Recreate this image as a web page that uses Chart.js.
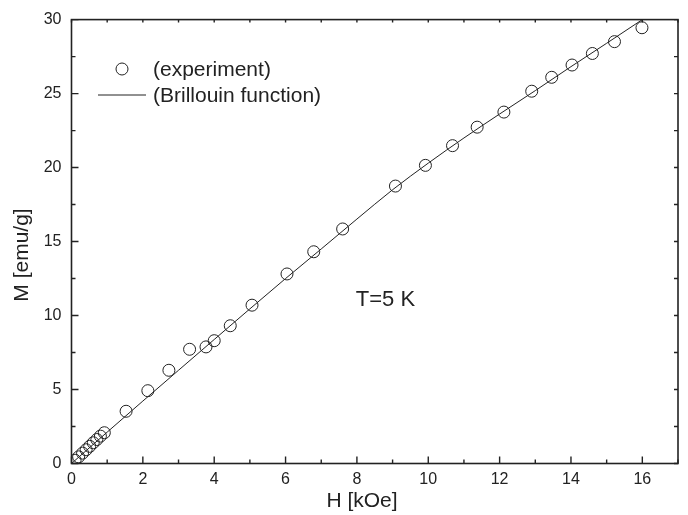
<!DOCTYPE html>
<html>
<head>
<meta charset="utf-8">
<script src="https://cdn.jsdelivr.net/npm/chart.js@4/dist/chart.umd.min.js"></script>
<style>
  html, body { margin: 0; padding: 0; background: #fff; }
  #wrap { width: 688px; height: 515px; }
</style>
</head>
<body>
<div id="wrap"><canvas id="c" width="688" height="515"></canvas></div>
<script>
// Magnetisation curve at T = 5 K: measured points and Brillouin fit
const hMeasured = [0.10, 0.20, 0.31, 0.41, 0.51, 0.61, 0.71, 0.81, 0.92,
  1.53, 2.14, 2.73, 3.31, 3.77, 4.00, 4.45, 5.06, 6.04, 6.79, 7.60,
  9.08, 9.92, 10.68, 11.37, 12.12, 12.90, 13.46, 14.03, 14.60, 15.22, 15.99];
const mMeasured = [0.22, 0.45, 0.70, 0.93, 1.16, 1.40, 1.62, 1.85, 2.08,
  3.53, 4.92, 6.30, 7.72, 7.88, 8.30, 9.31, 10.70, 12.81, 14.31, 15.85,
  18.75, 20.15, 21.48, 22.73, 23.75, 25.16, 26.10, 26.93, 27.71, 28.51, 29.45];

const hFit = [0, 1, 2, 3, 4, 5, 6, 7, 8, 9, 10, 11, 12, 13, 14, 15, 16];
const mFit = [0, 2.12, 4.22, 6.30, 8.38, 10.45, 12.50, 14.50, 16.52, 18.50,
  20.30, 22.00, 23.62, 25.20, 26.82, 28.40, 30.00];

const xTickValues = [0, 2, 4, 6, 8, 10, 12, 14, 16];
const yTickValues = [0, 5, 10, 15, 20, 25, 30];

const seriesLabels = ['(experiment)', '(Brillouin function)'];
const xTitle = 'H [kOe]';
const yTitle = 'M [emu/g]';
const noteText = 'T=5 K';
const notePos = [8.8, 11.05];

const INK = '#222';
const FONT = '"Liberation Sans", Arial, sans-serif';

const measuredPts = hMeasured.map((h, i) => ({ x: h, y: mMeasured[i] }));
const fitPts = hFit.map((h, i) => ({ x: h, y: mFit[i] }));

// Frame, inward tick marks, axis titles, legend and temperature note
const decor = {
  id: 'decor',
  afterDraw(chart) {
    const { ctx, chartArea: a, scales: { x, y } } = chart;
    ctx.save();
    ctx.strokeStyle = INK;
    ctx.lineWidth = 1.6;
    ctx.strokeRect(a.left, a.top, a.right - a.left, a.bottom - a.top);

    ctx.lineWidth = 1.4;
    ctx.beginPath();
    for (let v = 0; v <= 17; v += 1) {
      const px = x.getPixelForValue(v);
      const len = xTickValues.includes(v) ? 7 : 4;
      ctx.moveTo(px, a.bottom); ctx.lineTo(px, a.bottom - len);
      ctx.moveTo(px, a.top); ctx.lineTo(px, a.top + 3);
    }
    for (let v = 0; v <= 30; v += 2.5) {
      const py = y.getPixelForValue(v);
      const len = yTickValues.includes(v) ? 7 : 4;
      ctx.moveTo(a.left, py); ctx.lineTo(a.left + len, py);
      ctx.moveTo(a.right, py); ctx.lineTo(a.right - 4, py);
    }
    ctx.stroke();

    ctx.fillStyle = INK;
    ctx.font = '21px ' + FONT;
    ctx.textAlign = 'center';
    ctx.textBaseline = 'middle';
    ctx.fillText(xTitle, 362, 501);
    ctx.save();
    ctx.translate(22, 255);
    ctx.rotate(-Math.PI / 2);
    ctx.fillText(yTitle, 0, 0);
    ctx.restore();

    ctx.font = '22px ' + FONT;
    ctx.fillText(noteText, x.getPixelForValue(notePos[0]), y.getPixelForValue(notePos[1]));

    // legend
    ctx.font = '21px ' + FONT;
    ctx.textAlign = 'left';
    ctx.lineWidth = 1;
    ctx.beginPath();
    ctx.arc(122, 69, 6, 0, Math.PI * 2);
    ctx.stroke();
    ctx.beginPath();
    ctx.moveTo(98, 95); ctx.lineTo(146, 95);
    ctx.stroke();
    ctx.fillText(seriesLabels[0], 153, 70);
    ctx.fillText(seriesLabels[1], 153, 96);
    ctx.restore();
  }
};

new Chart(document.getElementById('c'), {
  type: 'scatter',
  data: {
    datasets: [
      {
        label: seriesLabels[1],
        data: fitPts,
        showLine: true,
        borderColor: INK,
        borderWidth: 1,
        pointRadius: 0,
        cubicInterpolationMode: 'monotone',
        fill: false
      },
      {
        label: seriesLabels[0],
        data: measuredPts,
        showLine: false,
        pointStyle: 'circle',
        pointRadius: 6,
        pointBorderWidth: 1,
        borderColor: INK,
        backgroundColor: 'rgba(0,0,0,0)'
      }
    ]
  },
  options: {
    responsive: false,
    animation: false,
    devicePixelRatio: 1,
    layout: { padding: { top: 15, right: 10, left: 0, bottom: 0 } },
    plugins: { legend: { display: false }, tooltip: { enabled: false } },
    scales: {
      x: {
        type: 'linear',
        min: 0, max: 17,
        afterFit(s) { s.height = 51.5; },
        afterBuildTicks(s) { s.ticks = xTickValues.map(v => ({ value: v })); },
        grid: { display: false, drawTicks: false },
        border: { display: false },
        ticks: { color: INK, font: { family: FONT, size: 16 }, padding: 6, maxRotation: 0 }
      },
      y: {
        type: 'linear',
        min: 0, max: 30,
        afterFit(s) { s.width = 71.5; },
        afterBuildTicks(s) { s.ticks = yTickValues.map(v => ({ value: v })); },
        grid: { display: false, drawTicks: false },
        border: { display: false },
        ticks: { color: INK, font: { family: FONT, size: 16 }, padding: 10 }
      }
    }
  },
  plugins: [decor]
});
</script>
</body>
</html>
